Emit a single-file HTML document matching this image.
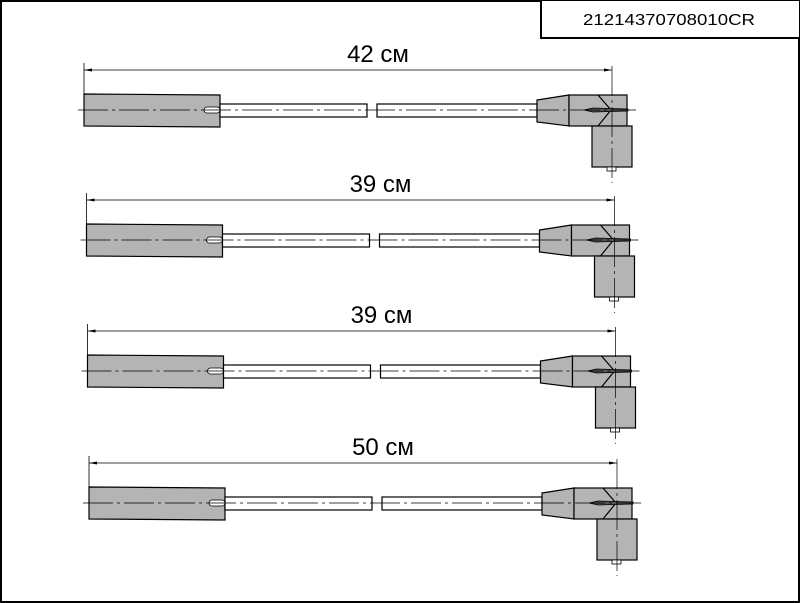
<!DOCTYPE html>
<html><head><meta charset="utf-8"><style>html,body{margin:0;padding:0;background:#fff}svg{display:block}</style></head>
<body>
<svg width="800" height="603" viewBox="0 0 800 603" xmlns="http://www.w3.org/2000/svg" font-family="Liberation Sans, sans-serif">
<rect x="1" y="1" width="798" height="601" fill="#fff" stroke="#000" stroke-width="2"/>
<rect x="541" y="0" width="259" height="38" fill="#fff" stroke="#000" stroke-width="2"/>
<text x="583" y="25" font-size="16" textLength="172" lengthAdjust="spacingAndGlyphs">21214370708010CR</text>
<defs>
<g id="cable">
  <!-- dimension -->
  <line x1="84" y1="63" x2="84" y2="112" stroke="#000" stroke-width="0.8"/>
  <line x1="84" y1="70" x2="612" y2="70" stroke="#000" stroke-width="0.8"/>
  <polygon points="84,70 92,68.5 92,71.5" fill="#000"/>
  <polygon points="612,70 604,68.5 604,71.5" fill="#000"/>
  <!-- boot -->
  <path d="M84,94 L220,95 L220,127 L84,126 Z" fill="#b4b4b4" stroke="#000" stroke-width="1.2"/>
  <rect x="204" y="107" width="16" height="6" rx="3" fill="#fff" stroke="#000" stroke-width="0.8"/>
  <!-- wire -->
  <rect x="220" y="104" width="147" height="13" fill="#fff" stroke="#000" stroke-width="1.2"/>
  <rect x="377" y="104" width="160" height="13" fill="#fff" stroke="#000" stroke-width="1.2"/>
  <!-- right -->
  <path d="M537,100 L569,95 L569,126 L537,122 Z" fill="#b4b4b4" stroke="#000" stroke-width="1.2"/>
  <rect x="569" y="95" width="58" height="31" fill="#b4b4b4" stroke="#000" stroke-width="1.2"/>
  <path d="M598,95 L611,110 L598,126" fill="none" stroke="#000" stroke-width="1.2"/>
  <path d="M584,110 L593,108 L628,109 L628,111 L593,112 Z" fill="#555" stroke="#000" stroke-width="0.8"/>
  <rect x="592" y="126" width="40" height="41" fill="#b4b4b4" stroke="#000" stroke-width="1.2"/>
  <rect x="607" y="167" width="9" height="4" fill="#fff" stroke="#000" stroke-width="0.8"/>
  <!-- center lines -->
  <line x1="78" y1="110" x2="636" y2="110" stroke="#000" stroke-width="0.7" stroke-dasharray="30,4,3,4"/>
  <line x1="612" y1="66" x2="612" y2="183" stroke="#000" stroke-width="0.7" stroke-dasharray="30,4,3,4"/>
</g>
</defs>
<use href="#cable"/>
<text x="378" y="62" font-size="24" text-anchor="middle">42 см</text>
<g transform="translate(2.5,130)"><use href="#cable"/><text x="378" y="62" font-size="24" text-anchor="middle">39 см</text></g>
<g transform="translate(3.5,261)"><use href="#cable"/><text x="378" y="62" font-size="24" text-anchor="middle">39 см</text></g>
<g transform="translate(5,393)"><use href="#cable"/><text x="378" y="62" font-size="24" text-anchor="middle">50 см</text></g>
</svg>
</body></html>
